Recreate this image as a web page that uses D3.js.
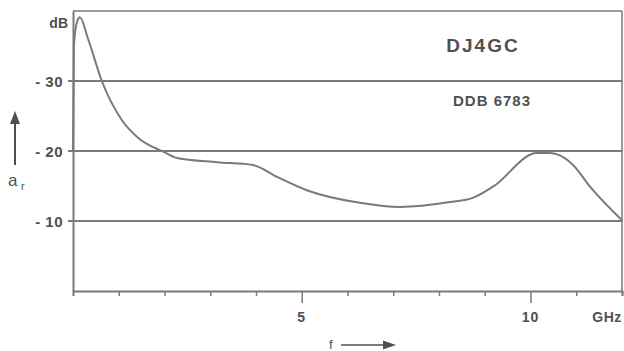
<!DOCTYPE html>
<html>
<head>
<meta charset="utf-8">
<script src="https://cdn.jsdelivr.net/npm/d3@7"></script>
<style>
  body { margin: 0; background: #fff; }
  text { font-family: "Liberation Sans", Arial, sans-serif; fill: #505050; font-weight: bold; }
</style>
</head>
<body>
<svg id="chart"></svg>
<script>
// Curve: frequency (GHz) and return loss a_r (dB)
var freqGHz = [0, 0.02, 0.09, 0.15, 0.33, 0.63, 1.07, 1.42, 1.97, 2.27, 3.15, 3.93, 4.46, 5.11, 6.27, 7.15, 8.24, 8.74, 9.18, 10.14, 10.43, 10.93, 11.3, 12];
var levelDB = [20, 35, 38.5, 39.1, 36, 30, 24.4, 21.9, 19.9, 19.0, 18.4, 18.0, 16.3, 14.4, 12.6, 12.0, 12.7, 13.3, 14.9, 19.7, 19.7, 18.0, 14.9, 10.1];

var yGrid = [10, 20, 30];
var yLabels = ["- 10", "- 20", "- 30"];
var xTicks = [1, 2, 3, 4, 5, 6, 7, 8, 9, 10, 11, 12];
var xLabelled = [5, 10];

var svgWidth = 624, svgHeight = 351;
var margin = { top: 11, right: 2, bottom: 60, left: 73 };

var svg = d3.select("#chart")
  .attr("width", svgWidth)
  .attr("height", svgHeight);

var xScale = d3.scaleLinear().domain([0, 12]).range([margin.left, svgWidth - margin.right]);
var yScale = d3.scaleLinear().domain([0, 40]).range([svgHeight - margin.bottom, margin.top]);

var lineColor = "#7a7a7a";

// Gridlines
svg.selectAll(".grid")
  .data(yGrid)
  .enter()
  .append("line")
  .attr("class", "grid")
  .attr("x1", xScale(0) - 5)
  .attr("x2", xScale(12))
  .attr("y1", function (d) { return yScale(d); })
  .attr("y2", function (d) { return yScale(d); })
  .attr("stroke", lineColor)
  .attr("stroke-width", 2);

// Frame: top and right
svg.append("line")
  .attr("x1", xScale(0)).attr("x2", xScale(12))
  .attr("y1", yScale(40)).attr("y2", yScale(40))
  .attr("stroke", lineColor).attr("stroke-width", 1.5);
svg.append("line")
  .attr("x1", xScale(12)).attr("x2", xScale(12))
  .attr("y1", yScale(40)).attr("y2", yScale(0))
  .attr("stroke", lineColor).attr("stroke-width", 1.5);

// Bottom axis
var xAxis = svg.append("g")
  .attr("transform", "translate(0," + yScale(0) + ")")
  .call(d3.axisBottom(xScale).tickValues(xTicks).tickSize(5).tickFormat(""));
xAxis.select(".domain").attr("stroke", lineColor).attr("stroke-width", 2);
xAxis.selectAll(".tick line")
  .attr("stroke", lineColor)
  .attr("stroke-width", 1.5)
  .attr("y2", function (d) { return xLabelled.indexOf(d) >= 0 ? 12 : 5; });

// Left axis
var yAxis = svg.append("g")
  .attr("transform", "translate(" + xScale(0) + ",0)")
  .call(d3.axisLeft(yScale).tickValues([]).tickSizeOuter(0));
yAxis.select(".domain").attr("stroke", lineColor).attr("stroke-width", 2);

// x labels
svg.selectAll(".xlab")
  .data(xLabelled)
  .enter()
  .append("text")
  .attr("x", function (d) { return xScale(d); })
  .attr("y", 322)
  .attr("text-anchor", "middle")
  .style("font-size", "14px")
  .style("letter-spacing", "1px")
  .text(function (d) { return d; });
svg.append("text").attr("x", 607).attr("y", 322).attr("text-anchor", "middle")
  .style("font-size", "14px").style("letter-spacing", "0.5px").text("GHz");

// y labels
svg.selectAll(".ylab")
  .data(yGrid)
  .enter()
  .append("text")
  .attr("x", 63)
  .attr("y", function (d) { return yScale(d) + 5.5; })
  .attr("text-anchor", "end")
  .style("font-size", "15px")
  .style("letter-spacing", "0.5px")
  .text(function (d, i) { return yLabels[i]; });
svg.append("text").attr("x", 68).attr("y", 28).attr("text-anchor", "end")
  .style("font-size", "14px").text("dB");

// a_r with arrow
svg.append("line").attr("x1", 15).attr("x2", 15).attr("y1", 165).attr("y2", 122)
  .attr("stroke", "#505050").attr("stroke-width", 2);
svg.append("path").attr("d", "M10,124 L15,111 L20,124 Z").attr("fill", "#505050");
svg.append("text").attr("x", 8).attr("y", 186).style("font-size", "17px").style("font-weight", "normal").text("a");
svg.append("text").attr("x", 21).attr("y", 190).style("font-size", "11px").style("font-weight", "normal").text("r");

// f with arrow
svg.append("text").attr("x", 329).attr("y", 349).style("font-size", "13px").style("font-weight", "normal").text("f");
svg.append("line").attr("x1", 341).attr("x2", 385).attr("y1", 345).attr("y2", 345)
  .attr("stroke", "#505050").attr("stroke-width", 1.5);
svg.append("path").attr("d", "M383,340.5 L396,345 L383,349.5 Z").attr("fill", "#505050");

// Titles
svg.append("text").attr("x", 483).attr("y", 52).attr("text-anchor", "middle")
  .style("font-size", "19px").style("letter-spacing", "2px").text("DJ4GC");
svg.append("text").attr("x", 492).attr("y", 106).attr("text-anchor", "middle")
  .style("font-size", "15px").style("letter-spacing", "1px").text("DDB 6783");

// Curve
var pts = freqGHz.map(function (f, i) { return [f, levelDB[i]]; });
var line = d3.line()
  .x(function (d) { return xScale(d[0]); })
  .y(function (d) { return yScale(d[1]); })
  .curve(d3.curveMonotoneX);
svg.append("path")
  .datum(pts)
  .attr("d", line)
  .attr("fill", "none")
  .attr("stroke", lineColor)
  .attr("stroke-width", 2);
</script>
</body>
</html>
